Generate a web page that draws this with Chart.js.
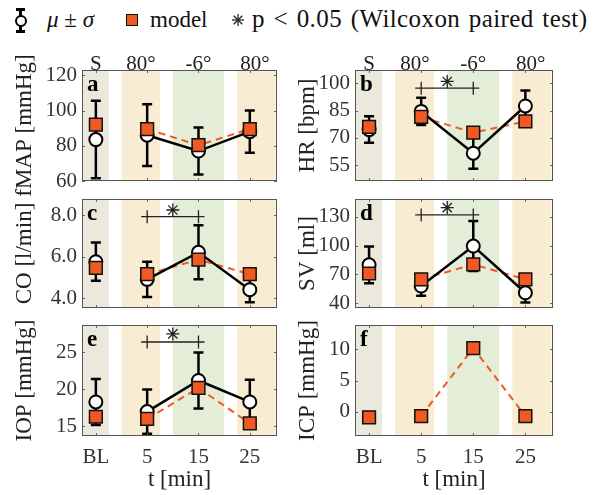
<!DOCTYPE html>
<html><head><meta charset="utf-8">
<script src="https://cdn.jsdelivr.net/npm/chart.js@4.4.1/dist/chart.umd.min.js"></script>
<style>
html,body{margin:0;padding:0;background:#fff;width:600px;height:495px;overflow:hidden;font-family:"Liberation Serif",serif;}
canvas{position:absolute;}
#legend{position:absolute;left:0;top:0;width:600px;height:40px;font-size:23px;color:#111;}
.lg{position:absolute;top:6px;line-height:28px;white-space:nowrap;}
.ln{position:absolute;background:#000;}
</style></head><body>
<div id="legend">
  <div class="ln" style="left:19px;top:9px;width:2.5px;height:23px;"></div>
  <div class="ln" style="left:15.5px;top:8px;width:9.5px;height:2.5px;"></div>
  <div class="ln" style="left:15.5px;top:30px;width:9.5px;height:2.5px;"></div>
  <div style="position:absolute;left:14.5px;top:14.5px;width:8px;height:8px;border:2px solid #000;border-radius:50%;background:#fff;"></div>
  <div class="lg" style="left:47px;"><i>μ</i> ± <i>σ</i></div>
  <div style="position:absolute;left:126px;top:14px;width:10px;height:10px;border:1.5px solid #111;background:#f05a22;"></div>
  <div class="lg" style="left:150px;">model</div>
  <svg style="position:absolute;left:231px;top:13px;" width="14" height="14" viewBox="-7 -7 14 14"><g stroke="#222" stroke-width="1.3"><line x1="0" y1="-6" x2="0" y2="6"/><line x1="-6" y1="0" x2="6" y2="0"/><line x1="-4.3" y1="-4.3" x2="4.3" y2="4.3"/><line x1="-4.3" y1="4.3" x2="4.3" y2="-4.3"/></g></svg>
  <div class="lg" style="left:252px;font-size:25px;letter-spacing:0.4px;word-spacing:2px;top:5px;">p &lt; 0.05 (Wilcoxon paired test)</div>
</div>
<canvas id="ca" width="290" height="180" style="left:0;top:40px;"></canvas>
<canvas id="cb" width="310" height="180" style="left:290px;top:40px;"></canvas>
<canvas id="cc" width="290" height="170" style="left:0;top:170px;"></canvas>
<canvas id="cd" width="310" height="170" style="left:290px;top:170px;"></canvas>
<canvas id="ce" width="290" height="195" style="left:0;top:300px;"></canvas>
<canvas id="cf" width="310" height="195" style="left:290px;top:300px;"></canvas>
<script>
// ---- data ----
const xLabels = ["BL", "5", "15", "25"];
const xIndex = [0, 1, 2, 3];
const topLabels = ["S", "80°", "-6°", "80°"];
const topLabelPos = [0, 0.88, 2, 3.1];
const bands = [[-0.3, 0.25, "#ebe8dc"], [0.5, 1.25, "#f8edd3"], [1.5, 2.5, "#e3edd8"], [2.75, 3.5, "#f8edd3"]];

const mapMean = [83.5, 86, 77, 88];
const mapSd = [22, 17.5, 13.3, 12];
const mapModel = [92, 89.5, 80.3, 89.5];

const hrMean = [74.5, 84.5, 61.5, 87.5];
const hrSd = [7.3, 7.5, 8.5, 8.5];
const hrModel = [76, 81.5, 72.8, 79];

const coMean = [5.75, 4.9, 6.2, 4.4];
const coSd = [0.92, 0.85, 1.3, 0.6];
const coModel = [5.45, 5.15, 5.85, 5.15];

const svMean = [80, 58, 99.5, 51];
const svSd = [19, 10, 26, 10];
const svModel = [71, 65, 80.5, 65];

const iopMean = [18.3, 17, 21.2, 18.3];
const iopSd = [3.1, 3, 3.8, 3];
const iopModel = [16.3, 16, 20.2, 15.4];

const icpModel = [-0.9, -0.7, 10.2, -0.7];

// significance brackets: [from, to, lineY, starY]
const sigHR = [1, 2, 97.3, 101];
const sigCO = [1, 2, 7.92, 8.24];
const sigSV = [1, 2, 131.8, 139.4];
const sigIOP = [1, 2, 26.4, 27.5];

// ---- styling ----
const FONT = "Liberation Serif";
const ORANGE = "#f05a22";
const TICKC = "#333";

const panelPlugin = {
  id: "panel",
  beforeDatasetsDraw(chart) {
    const o = chart.options.plugins.panel;
    const {ctx, chartArea: a, scales: {x, y}} = chart;
    ctx.save();
    ctx.beginPath(); ctx.rect(a.left, a.top, a.right - a.left, a.bottom - a.top); ctx.clip();
    for (const [b0, b1, c] of bands) {
      const p0 = x.getPixelForValue(b0), p1 = x.getPixelForValue(b1);
      ctx.fillStyle = c; ctx.fillRect(p0, a.top, p1 - p0, a.bottom - a.top);
    }
    ctx.restore();
    if (o.mean) {
      ctx.save(); ctx.strokeStyle = "#000"; ctx.lineWidth = 2.5;
      o.mean.forEach((m, i) => {
        const px = x.getPixelForValue(xIndex[i]);
        const t = y.getPixelForValue(m + o.sd[i]), b = y.getPixelForValue(m - o.sd[i]);
        ctx.beginPath();
        ctx.moveTo(px, t); ctx.lineTo(px, b);
        ctx.moveTo(px - 5, t); ctx.lineTo(px + 5, t);
        ctx.moveTo(px - 5, b); ctx.lineTo(px + 5, b);
        ctx.stroke();
      });
      ctx.restore();
    }
  },
  afterDatasetsDraw(chart) {
    const o = chart.options.plugins.panel;
    const {ctx, chartArea: a, scales: {x, y}} = chart;
    ctx.save();
    ctx.strokeStyle = "#666"; ctx.lineWidth = 1;
    ctx.beginPath();
    for (const t of y.ticks) {
      const py = Math.round(y.getPixelForValue(t.value)) + 0.5;
      ctx.moveTo(a.left, py); ctx.lineTo(a.left + 3, py);
      ctx.moveTo(a.right, py); ctx.lineTo(a.right - 3, py);
    }
    for (const v of xIndex) {
      const px = Math.round(x.getPixelForValue(v)) + 0.5;
      ctx.moveTo(px, a.bottom); ctx.lineTo(px, a.bottom - 3);
      ctx.moveTo(px, a.top); ctx.lineTo(px, a.top + 3);
    }
    ctx.stroke();
    ctx.strokeStyle = "#555"; ctx.lineWidth = 1;
    ctx.strokeRect(Math.round(a.left) + 0.5, Math.round(a.top) + 0.5, Math.round(a.right - a.left) - 1, Math.round(a.bottom - a.top) - 1);
    if (o.sig) {
      const [f, t, ly] = o.sig;
      const p0 = x.getPixelForValue(f), p1 = x.getPixelForValue(t), py = y.getPixelForValue(ly);
      ctx.strokeStyle = "#222"; ctx.lineWidth = 1.3;
      ctx.beginPath();
      ctx.moveTo(p0 - 6, py); ctx.lineTo(p1 + 6, py);
      ctx.moveTo(p0, py - 6.5); ctx.lineTo(p0, py + 6.5);
      ctx.moveTo(p1, py - 6.5); ctx.lineTo(p1, py + 6.5);
      ctx.stroke();
    }
    ctx.fillStyle = "#000"; ctx.font = "bold 23px '" + FONT + "'";
    ctx.textBaseline = "top"; ctx.textAlign = "left";
    ctx.fillText(o.letter, a.left + 5, a.top + 4);
    ctx.restore();
  }
};

function makePanel(id, cfg) {
  const left = cfg.col === 0;
  const yw = left ? 82 : 65;
  const padRight = left ? 13 : 47;
  const datasets = [];
  const pts = (arr) => arr.map((v, i) => ({x: xIndex[i], y: v}));
  datasets.push({
    data: pts(cfg.model), showLine: true, borderColor: ORANGE, borderWidth: 2,
    borderDash: [7, 5], pointRadius: 0,
    segment: {borderColor: c => c.p0DataIndex === 0 ? "rgba(0,0,0,0)" : ORANGE},
    order: 4
  });
  if (cfg.mean) {
    datasets.push({
      data: pts(cfg.mean), showLine: true, borderColor: "#000", borderWidth: 2.5,
      segment: {borderColor: c => c.p0DataIndex === 0 ? "rgba(0,0,0,0)" : "#000"},
      pointStyle: "circle", pointRadius: 6.5, pointBackgroundColor: "#fff",
      pointBorderColor: "#000", pointBorderWidth: 2, order: 3
    });
  }
  datasets.push({
    data: pts(cfg.model), showLine: false, pointStyle: "rect", pointRadius: 9,
    pointBackgroundColor: ORANGE, pointBorderColor: "#111", pointBorderWidth: 1.5, order: 2
  });
  if (cfg.sig) {
    datasets.push({
      data: [{x: (cfg.sig[0] + cfg.sig[1]) / 2, y: cfg.sig[3]}], showLine: false,
      pointStyle: "star", pointRadius: 6.5, pointBorderColor: "#222", pointBorderWidth: 1.3, order: 1
    });
  }
  const scales = {
    x: {
      type: "linear", min: -0.27, max: 3.53, display: cfg.bottom ? true : false,
      grid: {display: false, drawTicks: false}, border: {display: false},
      afterBuildTicks: s => { s.ticks = xIndex.map(v => ({value: v})); },
      afterFit: s => { if (cfg.bottom) s.height = 59; },
      ticks: {autoSkip: false, maxRotation: 0, padding: 9, color: TICKC,
        font: {family: FONT, size: 21}, callback: (v, i) => xLabels[i]},
      title: {display: true, text: "t [min]", color: "#222", padding: {top: 0, bottom: 1},
        font: {family: FONT, size: 23}}
    },
    y: {
      type: "linear", min: cfg.range[0], max: cfg.range[1], position: "left",
      grid: {display: false, drawTicks: false}, border: {display: false},
      afterBuildTicks: s => { s.ticks = cfg.yticks.map(v => ({value: v})); },
      afterFit: s => { s.width = yw; },
      ticks: {padding: 5, color: TICKC, font: {family: FONT, size: 21},
        callback: v => cfg.fmt ? cfg.fmt(v) : String(v)},
      title: {display: true, text: cfg.ytitle, color: "#222",
        padding: {top: left ? 11 : 4, bottom: 0}, font: {family: FONT, size: 23}}
    }
  };
  if (cfg.top) {
    scales.x2 = {
      type: "linear", min: -0.27, max: 3.53, position: "top",
      grid: {display: false, drawTicks: false}, border: {display: false},
      afterBuildTicks: s => { s.ticks = topLabelPos.map(v => ({value: v})); },
      afterFit: s => { s.height = 30; },
      ticks: {autoSkip: false, maxRotation: 0, padding: -7.5, color: "#222",
        font: {family: FONT, size: 21}, callback: (v, i) => topLabels[i]}
    };
  }
  new Chart(document.getElementById(id), {
    type: "scatter",
    data: {datasets},
    options: {
      responsive: false, animation: false, devicePixelRatio: 1,
      layout: {padding: {left: 0, right: padRight, top: cfg.padTop, bottom: cfg.padBottom}},
      scales,
      plugins: {legend: {display: false}, tooltip: {enabled: false},
        panel: {letter: cfg.letter, mean: cfg.mean, sd: cfg.sd, sig: cfg.sig}}
    },
    plugins: [panelPlugin]
  });
}

makePanel("ca", {col: 0, letter: "a", mean: mapMean, sd: mapSd, model: mapModel, range: [60, 123],
  yticks: [60, 80, 100, 120], ytitle: "fMAP [mmHg]", top: true, padTop: 0, padBottom: 39});
makePanel("cb", {col: 1, letter: "b", mean: hrMean, sd: hrSd, model: hrModel, range: [46.2, 107.3],
  yticks: [55, 70, 85, 100], ytitle: "HR [bpm]", top: true, padTop: 0, padBottom: 39, sig: sigHR});
makePanel("cc", {col: 0, letter: "c", mean: coMean, sd: coSd, model: coModel, range: [3.52, 8.77],
  yticks: [4, 6, 8], fmt: v => v.toFixed(1), ytitle: "CO [l/min]", padTop: 29, padBottom: 32, sig: sigCO});
makePanel("cd", {col: 1, letter: "d", mean: svMean, sd: svSd, model: svModel, range: [35.2, 148.3],
  yticks: [40, 70, 100, 130], ytitle: "SV [ml]", padTop: 29, padBottom: 32, sig: sigSV});
makePanel("ce", {col: 0, letter: "e", mean: iopMean, sd: iopSd, model: iopModel, range: [13.7, 28.7],
  yticks: [15, 20, 25], ytitle: "IOP [mmHg]", bottom: true, padTop: 25, padBottom: 0, sig: sigIOP});
makePanel("cf", {col: 1, letter: "f", model: icpModel, range: [-3.9, 13.9],
  yticks: [0, 5, 10], ytitle: "ICP [mmHg]", bottom: true, padTop: 25, padBottom: 0});
</script>
</body></html>
